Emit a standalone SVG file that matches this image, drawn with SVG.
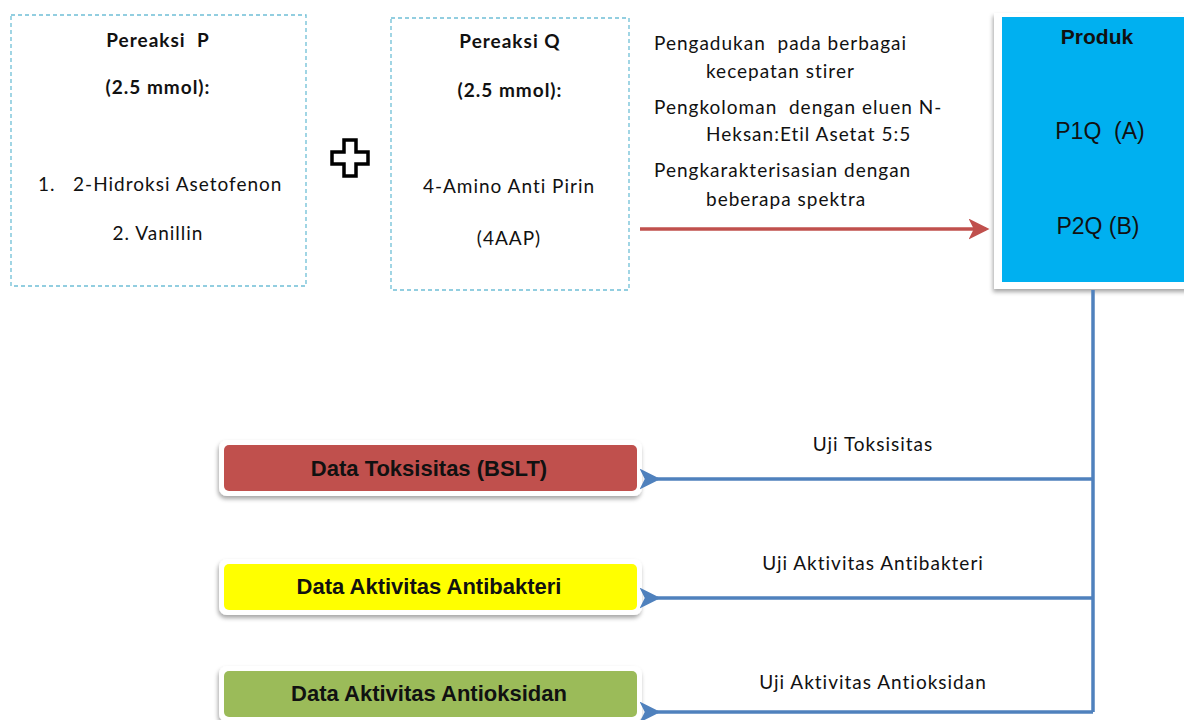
<svg xmlns="http://www.w3.org/2000/svg" width="1184" height="720" viewBox="0 0 1184 720">
<style>
.dash{fill:#fff;stroke:#6fbfd6;stroke-width:1.3;stroke-dasharray:4 3}
.cal{font-family:Lato,"Open Sans",sans-serif;font-size:19px;letter-spacing:1px;fill:#111}
.calb{font-family:Lato,"Open Sans",sans-serif;font-size:19px;letter-spacing:1px;font-weight:bold;fill:#111}
.ar{font-family:"Liberation Sans",Arial,sans-serif;font-size:23px;fill:#111}
.arb{font-family:"Liberation Sans",Arial,sans-serif;font-size:21px;font-weight:bold;fill:#111}
.db{font-family:"Liberation Sans",Arial,sans-serif;font-size:22px;font-weight:bold;fill:#111}
.blue{stroke:#4f81bd;stroke-width:3.5;fill:none}
.frame{fill:#fff;filter:url(#sh)}
</style>
<defs>
<filter id="sh" x="-10%" y="-30%" width="120%" height="160%">
<feDropShadow dx="-1" dy="3" stdDeviation="2" flood-color="#000" flood-opacity="0.35"/>
</filter>
<marker id="ab" markerWidth="6" markerHeight="6" refX="1" refY="3" orient="auto" markerUnits="strokeWidth">
<path d="M0,3 L6,0 L4.5,3 L6,6 Z" fill="#4f81bd"/>
</marker>
<marker id="ar" markerWidth="6" markerHeight="6" refX="5" refY="3" orient="auto" markerUnits="strokeWidth">
<path d="M6,3 L0,0 L1.5,3 L0,6 Z" fill="#c0504d"/>
</marker>
</defs>
<rect width="1184" height="720" fill="#fff"/>

<g id="pereaksiP">
<rect class="dash" x="11" y="15" width="295" height="271"/>
<text class="calb" x="158" y="47" text-anchor="middle" xml:space="preserve">Pereaksi  P</text>
<text class="calb" x="158" y="94" text-anchor="middle">(2.5 mmol):</text>
<text class="cal" x="38" y="191" xml:space="preserve">1.   2-Hidroksi Asetofenon</text>
<text class="cal" x="158" y="240" text-anchor="middle">2. Vanillin</text>
</g>

<g id="plus">
<path d="M344,140 H356 V152 H368 V164 H356 V176 H344 V164 H332 V152 H344 Z" fill="none" stroke="#000" stroke-width="3.5"/>
</g>

<g id="pereaksiQ">
<rect class="dash" x="391" y="18" width="238" height="272"/>
<text class="calb" x="510" y="48" text-anchor="middle">Pereaksi Q</text>
<text class="calb" x="510" y="97" text-anchor="middle">(2.5 mmol):</text>
<text class="cal" x="509" y="193" text-anchor="middle">4-Amino Anti Pirin</text>
<text class="cal" x="509" y="245" text-anchor="middle">(4AAP)</text>
</g>

<g id="proses">
<text class="cal" x="654" y="50" xml:space="preserve">Pengadukan  pada berbagai</text>
<text class="cal" x="706" y="78">kecepatan stirer</text>
<text class="cal" x="654" y="114" xml:space="preserve">Pengkoloman  dengan eluen N-</text>
<text class="cal" x="706" y="141">Heksan:Etil Asetat 5:5</text>
<text class="cal" x="654" y="177">Pengkarakterisasian dengan</text>
<text class="cal" x="706" y="206">beberapa spektra</text>
</g>

<g id="produk">
<rect class="frame" x="994" y="13" width="200" height="276"/>
<rect x="1002" y="17" width="190" height="265" fill="#00b0f0"/>
<text class="arb" x="1097" y="44" text-anchor="middle">Produk</text>
<text class="ar" x="1100" y="139" text-anchor="middle" xml:space="preserve">P1Q  (A)</text>
<text class="ar" x="1098" y="234" text-anchor="middle">P2Q (B)</text>
</g>

<g id="dataToksisitas">
<rect class="frame" x="219" y="440" width="423" height="56" rx="8"/>
<rect x="224" y="445" width="413" height="46" rx="5" fill="#c0504d"/>
<text class="db" x="429" y="476" text-anchor="middle">Data Toksisitas (BSLT)</text>
</g>

<g id="dataAntibakteri">
<rect class="frame" x="219" y="559" width="423" height="56" rx="8"/>
<rect x="224" y="564" width="413" height="46" rx="5" fill="#ffff00"/>
<text class="db" x="429" y="594" text-anchor="middle">Data Aktivitas Antibakteri</text>
</g>

<g id="dataAntioksidan">
<rect class="frame" x="219" y="666" width="423" height="56" rx="8"/>
<rect x="224" y="671" width="413" height="46" rx="5" fill="#9bbb59"/>
<text class="db" x="429" y="701" text-anchor="middle">Data Aktivitas Antioksidan</text>
</g>

<g id="connectors">
<line x1="640" y1="229" x2="986" y2="229" stroke="#c0504d" stroke-width="3.5" marker-end="url(#ar)"/>
<polyline class="blue" points="1093,290 1093,712"/>
<line class="blue" x1="1093" y1="479" x2="657" y2="479" marker-end="url(#ab)"/>
<line class="blue" x1="1093" y1="598" x2="657" y2="598" marker-end="url(#ab)"/>
<line class="blue" x1="1093" y1="712" x2="657" y2="712" marker-end="url(#ab)"/>
<text class="cal" x="873" y="451" text-anchor="middle">Uji Toksisitas</text>
<text class="cal" x="873" y="570" text-anchor="middle">Uji Aktivitas Antibakteri</text>
<text class="cal" x="873" y="689" text-anchor="middle">Uji Aktivitas Antioksidan</text>
</g>
</svg>
